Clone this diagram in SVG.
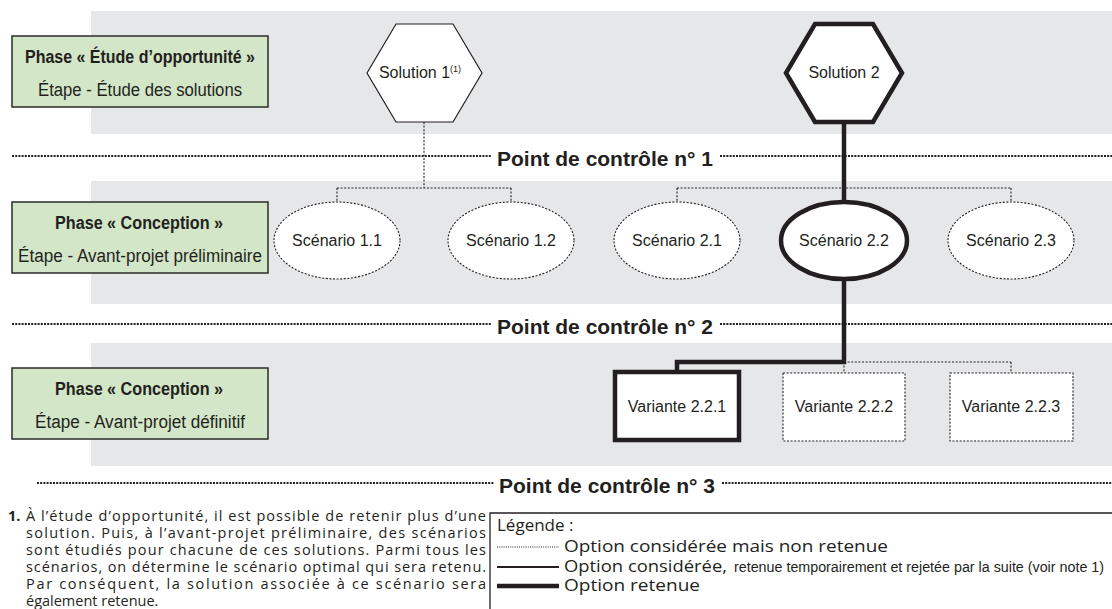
<svg xmlns="http://www.w3.org/2000/svg" width="1112" height="609" viewBox="0 0 1112 609">
<style>
.band{fill:#e6e7e8}
.phase{fill:#d3e6c8;stroke:#2b2b2b;stroke-width:1.5}
.ph{font-family:"Liberation Sans",Arial,sans-serif;font-weight:bold;font-size:18px;fill:#231f20}
.et{font-family:"Liberation Sans",Arial,sans-serif;font-size:18px;fill:#231f20}
.cp{font-family:"Liberation Sans",Arial,sans-serif;font-weight:bold;font-size:21px;fill:#231f20}
.cpl{stroke:#231f20;stroke-width:2;stroke-dasharray:2 1.2;fill:none}
.lbl{font-family:"Liberation Sans",Arial,sans-serif;font-size:16px;fill:#231f20;text-anchor:middle}
.thin{fill:#fff;stroke:#231f20;stroke-width:1.2}
.thick{fill:#fff;stroke:#231f20;stroke-width:4.5}
.dot{fill:#fff;stroke:#231f20;stroke-width:1.1;stroke-dasharray:2 1.6}
.cdot{fill:none;stroke:#231f20;stroke-width:1.1;stroke-dasharray:2 1.6}
.cthick{fill:none;stroke:#231f20;stroke-width:4.5}
.note{font-family:"Open Sans","Noto Sans",sans-serif;font-size:14.5px;fill:#231f20}
.leg{font-family:"Open Sans","Noto Sans",sans-serif;font-size:17px;fill:#231f20}
.legs{font-family:"Liberation Sans",Arial,sans-serif;font-size:14px;fill:#231f20}
</style>

<g id="bands">
<rect class="band" x="91" y="11" width="1021" height="123"/>
<rect class="band" x="91" y="181" width="1021" height="123"/>
<rect class="band" x="91" y="343" width="1021" height="123"/>
</g>

<g id="checkpoints">
<line class="cpl" x1="12" y1="156" x2="492" y2="156"/>
<line class="cpl" x1="720" y1="156" x2="1112" y2="156"/>
<text class="cp" x="497" y="166" textLength="216" lengthAdjust="spacingAndGlyphs">Point de contrôle n° 1</text>
<line class="cpl" x1="12" y1="324" x2="492" y2="324"/>
<line class="cpl" x1="720" y1="324" x2="1112" y2="324"/>
<text class="cp" x="497" y="334" textLength="216" lengthAdjust="spacingAndGlyphs">Point de contrôle n° 2</text>
<line class="cpl" x1="37" y1="483" x2="494" y2="483"/>
<line class="cpl" x1="722" y1="483" x2="1112" y2="483"/>
<text class="cp" x="499" y="493" textLength="216" lengthAdjust="spacingAndGlyphs">Point de contrôle n° 3</text>
</g>

<g id="phase1">
<rect class="phase" x="12" y="36" width="256" height="71"/>
<text class="ph" x="25" y="63" textLength="230" lengthAdjust="spacingAndGlyphs">Phase « Étude d’opportunité »</text>
<text class="et" x="38" y="96" textLength="204" lengthAdjust="spacingAndGlyphs">Étape - Étude des solutions</text>
</g>
<g id="phase2">
<rect class="phase" x="12" y="202" width="256" height="71"/>
<text class="ph" x="55" y="229" textLength="168" lengthAdjust="spacingAndGlyphs">Phase « Conception »</text>
<text class="et" x="18" y="262" textLength="244" lengthAdjust="spacingAndGlyphs">Étape - Avant-projet préliminaire</text>
</g>
<g id="phase3">
<rect class="phase" x="12" y="368" width="256" height="71"/>
<text class="ph" x="55" y="395" textLength="168" lengthAdjust="spacingAndGlyphs">Phase « Conception »</text>
<text class="et" x="35" y="428" textLength="210" lengthAdjust="spacingAndGlyphs">Étape - Avant-projet définitif</text>
</g>

<g id="connectors">
<path class="cdot" d="M424 122 V188 M337 188 H511 M337 188 V202 M511 188 V202"/>
<path class="cdot" d="M677 188 H1011 M677 188 V202 M1011 188 V202"/>
<path class="cdot" d="M844 362 H1011 M844 362 V373 M1011 362 V373"/>
<path class="cthick" d="M844 123 V202"/>
<path class="cthick" d="M844 279 V362 H677 V372"/>
</g>

<g id="solution1">
<polygon class="thin" points="367,73 396,24 453,24 482,73 453,122 396,122"/>
<text class="lbl" x="420" y="78">Solution 1<tspan font-size="9" dy="-6">(1)</tspan></text>
</g>
<g id="solution2">
<polygon class="thick" points="786,73 815,24 873,24 902,73 873,122 815,122"/>
<text class="lbl" x="844" y="78">Solution 2</text>
</g>

<g id="scenario11"><ellipse class="dot" cx="337" cy="240.5" rx="63" ry="38.5"/><text class="lbl" x="337" y="246">Scénario 1.1</text></g>
<g id="scenario12"><ellipse class="dot" cx="511" cy="240.5" rx="63" ry="38.5"/><text class="lbl" x="511" y="246">Scénario 1.2</text></g>
<g id="scenario21"><ellipse class="dot" cx="677" cy="240.5" rx="63" ry="38.5"/><text class="lbl" x="677" y="246">Scénario 2.1</text></g>
<g id="scenario22"><ellipse class="thick" cx="844" cy="240.5" rx="63" ry="38.5"/><text class="lbl" x="844" y="246">Scénario 2.2</text></g>
<g id="scenario23"><ellipse class="dot" cx="1011" cy="240.5" rx="63" ry="38.5"/><text class="lbl" x="1011" y="246">Scénario 2.3</text></g>

<g id="variante221"><rect class="thick" x="615" y="372" width="124" height="68"/><text class="lbl" x="677" y="412">Variante 2.2.1</text></g>
<g id="variante222"><rect class="dot" x="783" y="373" width="122" height="68"/><text class="lbl" x="844" y="412">Variante 2.2.2</text></g>
<g id="variante223"><rect class="dot" x="950" y="373" width="123" height="68"/><text class="lbl" x="1011" y="412">Variante 2.2.3</text></g>

<g id="note">
<text class="note" x="8" y="521" font-weight="bold">1.</text>
<text class="note" x="26" y="521" textLength="460" lengthAdjust="spacing">À l’étude d’opportunité, il est possible de retenir plus d’une</text>
<text class="note" x="26" y="538" textLength="460" lengthAdjust="spacing">solution. Puis, à l’avant-projet préliminaire, des scénarios</text>
<text class="note" x="26" y="555" textLength="460" lengthAdjust="spacing">sont étudiés pour chacune de ces solutions. Parmi tous les</text>
<text class="note" x="26" y="572" textLength="460" lengthAdjust="spacing">scénarios, on détermine le scénario optimal qui sera retenu.</text>
<text class="note" x="26" y="589" textLength="460" lengthAdjust="spacing">Par conséquent, la solution associée à ce scénario sera</text>
<text class="note" x="26" y="606">également retenue.</text>
</g>

<g id="legend">
<path d="M490 609 V513 H1112" fill="none" stroke="#231f20" stroke-width="1.3"/>
<text class="leg" x="497" y="531">Légende :</text>
<line x1="497" y1="547" x2="559" y2="547" stroke="#231f20" stroke-width="1" stroke-dasharray="1 1.2"/>
<text class="leg" x="564" y="552" textLength="324" lengthAdjust="spacingAndGlyphs">Option considérée mais non retenue</text>
<line x1="497" y1="567" x2="559" y2="567" stroke="#231f20" stroke-width="1.8"/>
<text class="leg" x="564" y="572" textLength="163" lengthAdjust="spacingAndGlyphs">Option considérée,</text>
<text class="legs" x="734" y="572" textLength="370" lengthAdjust="spacingAndGlyphs">retenue temporairement et rejetée par la suite (voir note 1)</text>
<line x1="497" y1="586" x2="559" y2="586" stroke="#231f20" stroke-width="4.5"/>
<text class="leg" x="564" y="591" textLength="136" lengthAdjust="spacingAndGlyphs">Option retenue</text>
</g>
</svg>
